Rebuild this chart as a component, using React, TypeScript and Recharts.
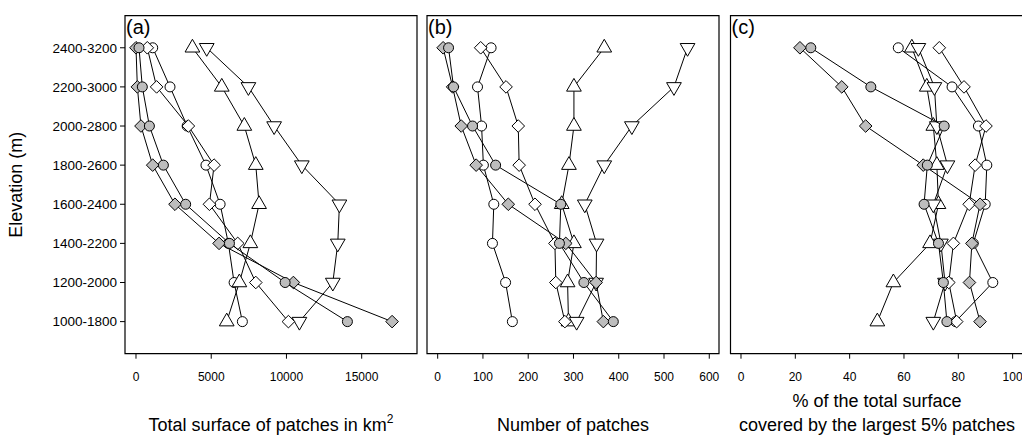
import React from 'react'
import { ScatterChart, Scatter, XAxis, YAxis, ReferenceArea, Label } from 'recharts'

const elevations = ['1000-1800', '1200-2000', '1400-2200', '1600-2400', '1800-2600', '2000-2800', '2200-3000', '2400-3200']

// (a) total surface of patches, km2 (bottom -> top elevation band)
const aWhiteCircle = [7070, 6520, 6140, 5590, 4650, 3400, 2260, 1110]
const aGreyCircle = [14050, 9910, 6210, 3300, 1820, 890, 420, 200]
const aWhiteDiamond = [10130, 7960, 6760, 4880, 5190, 3480, 1370, 750]
const aGreyDiamond = [17020, 10460, 5520, 2590, 1110, 330, 90, 0]
const aTriUp = [6030, 6870, 7600, 8180, 7960, 7200, 5700, 3750]
const aTriDown = [10860, 13080, 13410, 13520, 11020, 9180, 7470, 4700]

// (b) number of patches
const bWhiteCircle = [165, 150, 121, 124, 101, 97, 88, 118]
const bGreyCircle = [388, 323, 269, 272, 128, 77, 35, 24]
const bWhiteDiamond = [281, 261, 259, 215, 180, 178, 151, 95]
const bGreyDiamond = [366, 350, 283, 156, 85, 52, 33, 12]
const bTriUp = [289, 287, 301, 274, 290, 301, 301, 368]
const bTriDown = [307, 350, 351, 325, 368, 429, 522, 552]

// (c) % of total surface covered by the largest 5% patches
const cWhiteCircle = [79, 92.7, 85.5, 89.9, 90.5, 87.4, 77.7, 57.9]
const cGreyCircle = [75.8, 74.5, 72.7, 67.4, 68.6, 74.8, 47.8, 25.7]
const cWhiteDiamond = [79.4, 76.5, 78.2, 84.0, 86.2, 90.2, 82.1, 73.0]
const cGreyDiamond = [88.0, 84.1, 85.0, 88.0, 67.1, 45.9, 37.1, 21.7]
const cTriUp = [50.2, 56.1, 69.6, 72.7, 72.1, 70.8, 68.4, 62.9]
const cTriDown = [70.8, 75.1, 73.6, 70.8, 76.0, 72.1, 71.2, 65.3]

const aTicks = [0, 5000, 10000, 15000]
const bTicks = [0, 100, 200, 300, 400, 500, 600]
const cTicks = [0, 20, 40, 60, 80, 100]
const yTicks = [1, 2, 3, 4, 5, 6, 7, 8]

const FONT = '"Liberation Sans", Arial, sans-serif'
const GREY = '#bdbdbd'
const Y_DOMAIN: [number, number] = [0.18, 8.82]

function Marker({ cx, cy, kind, fill }: any) {
  if (cx == null || cy == null) return null
  if (kind === 'circle') {
    return <circle cx={cx} cy={cy} r={5} fill={fill} stroke="#000" strokeWidth={1} />
  }
  if (kind === 'diamond') {
    const d = 6.3
    return (
      <polygon
        points={`${cx},${cy - d} ${cx + d},${cy} ${cx},${cy + d} ${cx - d},${cy}`}
        fill={fill}
        stroke="#000"
        strokeWidth={1}
      />
    )
  }
  const r = 8.5
  const s = kind === 'up' ? 1 : -1
  const pts = `${cx},${cy - s * r} ${cx + 0.866 * r},${cy + (s * r) / 2} ${cx - 0.866 * r},${cy + (s * r) / 2}`
  return <polygon points={pts} fill={fill} stroke="#000" strokeWidth={1} />
}

const toPoints = (vals: number[]) => vals.map((v, i) => ({ x: v, y: i + 1 }))

// drawing order: later ones on top
const styles = [
  { name: 'whiteCircle', kind: 'circle', fill: '#fff' },
  { name: 'triUp', kind: 'up', fill: '#fff' },
  { name: 'triDown', kind: 'down', fill: '#fff' },
  { name: 'whiteDiamond', kind: 'diamond', fill: '#fff' },
  { name: 'greyDiamond', kind: 'diamond', fill: GREY },
  { name: 'greyCircle', kind: 'circle', fill: GREY },
]

const panels = [
  {
    letter: '(a)',
    domain: [-731, 18675] as [number, number],
    ticks: aTicks,
    left: 0,
    right: 613,
    showY: true,
    title: ['Total surface of patches in km'],
    sup: true,
    series: { whiteCircle: aWhiteCircle, greyCircle: aGreyCircle, whiteDiamond: aWhiteDiamond, greyDiamond: aGreyDiamond, triUp: aTriUp, triDown: aTriDown } as Record<string, number[]>,
  },
  {
    letter: '(b)',
    domain: [-23.6, 621.5] as [number, number],
    ticks: bTicks,
    left: 427,
    right: 311,
    showY: false,
    title: ['Number of patches'],
    sup: false,
    series: { whiteCircle: bWhiteCircle, greyCircle: bGreyCircle, whiteDiamond: bWhiteDiamond, greyDiamond: bGreyDiamond, triUp: bTriUp, triDown: bTriDown } as Record<string, number[]>,
  },
  {
    letter: '(c)',
    domain: [-3.86, 104] as [number, number],
    ticks: cTicks,
    left: 730.5,
    right: 6.5,
    showY: false,
    title: ['% of the total surface', 'covered by the largest 5% patches'],
    sup: false,
    series: { whiteCircle: cWhiteCircle, greyCircle: cGreyCircle, whiteDiamond: cWhiteDiamond, greyDiamond: cGreyDiamond, triUp: cTriUp, triDown: cTriDown } as Record<string, number[]>,
  },
]

function Panel({ p }: { p: (typeof panels)[number] }) {
  return (
    <div style={{ position: 'absolute', left: 0, top: 0 }}>
      <ScatterChart width={1030} height={436} margin={{ top: 15.7, right: p.right, bottom: 0, left: p.left }}>
        <XAxis
          type="number"
          dataKey="x"
          domain={p.domain}
          ticks={p.ticks}
          interval={0}
          allowDataOverflow
          axisLine={false}
          tickLine={{ stroke: '#000' }}
          tickSize={5}
          tickMargin={14}
          height={82.3}
          tick={{ fill: '#000', fontSize: 12, fontFamily: FONT }}
        >
          <Label
            content={({ viewBox }: any) => {
              const cx = viewBox.x + viewBox.width / 2
              const lines = p.title
              return (
                <text textAnchor="middle" fontSize={18} fontFamily={FONT} fill="#000">
                  {lines.map((t, i) => (
                    <tspan key={i} x={cx} y={430.5 - (lines.length - 1 - i) * 23.5}>
                      {t}
                      {p.sup && i === lines.length - 1 ? (
                        <tspan dy={-8} fontSize={12}>2</tspan>
                      ) : null}
                    </tspan>
                  ))}
                </text>
              )
            }}
          />
        </XAxis>
        <YAxis
          type="number"
          dataKey="y"
          domain={Y_DOMAIN}
          ticks={yTicks}
          interval={0}
          allowDataOverflow
          hide={!p.showY}
          width={125}
          axisLine={false}
          tickLine={{ stroke: '#000' }}
          tickSize={5}
          tickMargin={3}
          tickFormatter={(v: number) => elevations[v - 1]}
          tick={{ fill: '#000', fontSize: 13.5, fontFamily: FONT }}
        >
          <Label
            content={() => (
              <text
                x={15.5}
                y={184.7}
                dy="0.35em"
                textAnchor="middle"
                transform="rotate(-90, 15.5, 184.7)"
                fontSize={18}
                fontFamily={FONT}
                fill="#000"
              >
                Elevation (m)
              </text>
            )}
          />
        </YAxis>
        <ReferenceArea
          x1={p.domain[0]}
          x2={p.domain[1]}
          y1={Y_DOMAIN[0]}
          y2={Y_DOMAIN[1]}
          fill="none"
          fillOpacity={0}
          stroke="#000"
          strokeWidth={1.2}
          ifOverflow="visible"
        >
          <Label
            content={({ viewBox }: any) => (
              <text x={viewBox.x + 1} y={viewBox.y + 17.8} fontSize={20} fontFamily={FONT} fill="#000">
                {p.letter}
              </text>
            )}
          />
        </ReferenceArea>
        {styles.map((s) => (
          <Scatter
            key={s.name}
            data={toPoints(p.series[s.name])}
            line={{ stroke: '#000', strokeWidth: 1 }}
            lineType="joint"
            isAnimationActive={false}
            shape={(props: any) => <Marker cx={props.cx} cy={props.cy} kind={s.kind} fill={s.fill} />}
          />
        ))}
      </ScatterChart>
    </div>
  )
}

export default function App() {
  return (
    <div style={{ position: 'absolute', left: 0, top: 0, width: 1022, height: 436, background: '#fff', overflow: 'hidden' }}>
      {panels.map((p) => (
        <Panel key={p.letter} p={p} />
      ))}
    </div>
  )
}
